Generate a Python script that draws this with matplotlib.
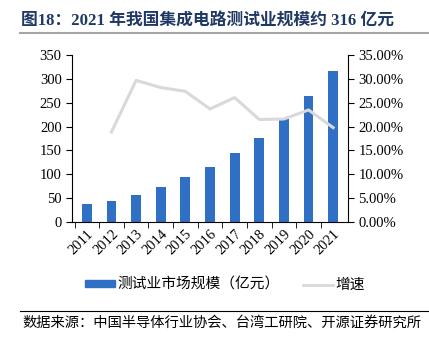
import matplotlib
matplotlib.use("Agg")
import matplotlib.pyplot as plt
from matplotlib.ticker import FuncFormatter
from matplotlib.lines import Line2D
from matplotlib.patches import Patch

years = ["2011", "2012", "2013", "2014", "2015", "2016",
         "2017", "2018", "2019", "2020", "2021"]
market = [37.5, 44, 57, 73.5, 94, 115.5, 145.5, 177, 215, 265, 317]
growth = [None, 18.9, 29.7, 28.2, 27.4, 23.7, 26.1, 21.5, 21.6, 23.5, 19.8]

serif = ["Liberation Serif", "Noto Sans CJK SC"]
cjk = ["Noto Sans CJK SC", "DejaVu Sans"]

fig = plt.figure(figsize=(4.29, 3.51), dpi=100)
ax = fig.add_axes([0.168, 0.3675, 0.643, 0.4755])
ax2 = ax.twinx()

x = list(range(len(years)))
ax.bar(x, market, width=0.4, color="#3070C4", zorder=2)
gx = [i for i, g in zip(x, growth) if g is not None]
gy = [g for g in growth if g is not None]
ax2.plot(gx, gy, color="#D9D9D9", lw=2.2, zorder=3)

ax.set_xlim(-0.6, len(years) - 0.4)
ax.set_ylim(0, 350)
ax.set_yticks(range(0, 351, 50))
ax2.set_ylim(0, 35)
ax2.set_yticks(range(0, 36, 5))
ax2.yaxis.set_major_formatter(FuncFormatter(lambda v, p: f"{v:.2f}%"))

ax.set_xticks(x)
ax.set_xticklabels(years, rotation=45, ha="right", rotation_mode="anchor")
ax.set_xticks([i + 0.5 for i in x[:-1]] + [-0.5], minor=True)
ax.tick_params(axis="x", which="major", length=0, pad=4)
ax.tick_params(axis="x", which="minor", length=4, direction="out")
ax.tick_params(axis="y", length=4, direction="out")
ax2.tick_params(axis="y", length=4, direction="out")

for a in (ax, ax2):
    a.spines["top"].set_visible(False)
    for lab in a.get_xticklabels() + a.get_yticklabels():
        lab.set_family(serif)
        lab.set_fontsize(10.5)
ax.spines["right"].set_visible(False)
ax2.spines["left"].set_visible(False)
ax2.spines["bottom"].set_visible(False)

# title
fig.text(0.05, 0.937, "图18：2021 年我国集成电路测试业规模约 316 亿元",
         family=serif, fontsize=12.1, fontweight="bold", color="#1F3864",
         va="center", ha="left")
fig.add_artist(Line2D([0.047, 1.0], [0.906, 0.906], color="#A6A6A6", lw=1.5))

# legend
handles = [Patch(color="#3070C4"), Line2D([], [], color="#D9D9D9", lw=2)]
leg = fig.legend(handles, ["测试业市场规模（亿元）", "增速"], loc="center",
                 bbox_to_anchor=(0.525, 0.188), ncol=2, frameon=False,
                 prop={"family": cjk, "size": 10.6}, handlelength=2.0,
                 handleheight=0.4, columnspacing=1.6, handletextpad=0.2)

# source
fig.add_artist(Line2D([0.047, 1.0], [0.114, 0.114], color="black", lw=0.8))
fig.text(0.053, 0.08, "数据来源：中国半导体行业协会、台湾工研院、开源证券研究所",
         family=cjk, fontsize=10.3, ha="left", va="center")

fig.savefig("out.png", dpi=100)
